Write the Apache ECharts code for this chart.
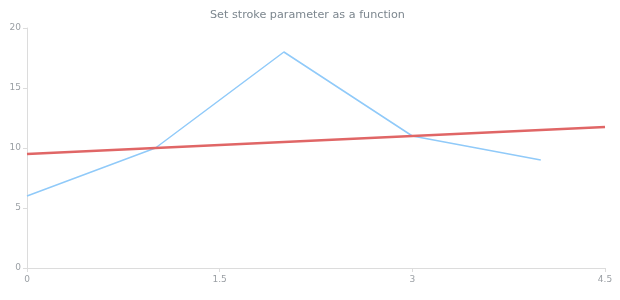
<!DOCTYPE html>
<html><head><meta charset="utf-8">
<script src="https://cdn.jsdelivr.net/npm/echarts@6/dist/echarts.min.js"></script>
<style>html,body{margin:0;padding:0;background:#fff}#c{width:620px;height:300px}</style>
</head><body><div id="c"></div>
<script>
const titleText = "Set stroke parameter as a function";
const blueX = [0, 1, 2, 3, 4];
const blueY = [6, 10, 18, 11, 9];
const redX = [0, 4.5];
const redY = [9.5, 11.75];
const yTicks = [0, 5, 10, 15, 20];
const xTicks = [0, 1.5, 3, 4.5];

const chart = echarts.init(document.getElementById('c'), null, {renderer: 'canvas'});
const axisCommon = {
  axisLine: {show: true, lineStyle: {color: '#dcdcdc', width: 1}},
  axisTick: {show: true, length: 4, lineStyle: {color: '#dcdcdc'}},
  splitLine: {show: false},
  axisLabel: {color: '#9a9fa4', fontSize: 9, fontFamily: 'DejaVu Sans'}
};
chart.setOption({
  animation: false,
  title: {text: titleText, left: 205, top: 5,
    textStyle: {color: '#7c868e', fontSize: 11.2, fontWeight: 'normal', fontFamily: 'DejaVu Sans'}},
  grid: {left: 27, right: 15, top: 28, bottom: 32, containLabel: false},
  xAxis: Object.assign({type: 'value', min: xTicks[0], max: xTicks[xTicks.length-1], interval: 1.5}, axisCommon,
    {axisLabel: Object.assign({}, axisCommon.axisLabel, {margin: 7})}),
  yAxis: Object.assign({type: 'value', min: yTicks[0], max: yTicks[yTicks.length-1], interval: 5}, axisCommon,
    {axisLabel: Object.assign({}, axisCommon.axisLabel, {margin: 6})}),
  series: [
    {type: 'line', data: blueX.map((x, i) => [x, blueY[i]]), showSymbol: false,
      lineStyle: {color: '#90caf9', width: 1.5}, itemStyle: {color: '#90caf9'}},
    {type: 'line', data: redX.map((x, i) => [x, redY[i]]), showSymbol: false,
      lineStyle: {color: '#e06666', width: 2.5}, itemStyle: {color: '#e06666'}}
  ]
});
</script></body></html>
